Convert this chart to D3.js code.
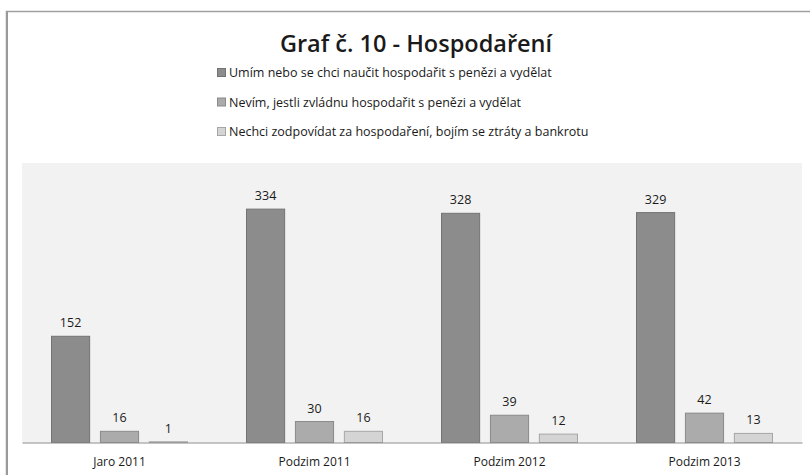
<!DOCTYPE html>
<html>
<head>
<meta charset="utf-8">
<script src="https://cdn.jsdelivr.net/npm/d3@7"></script>
<style>
  body { margin: 0; background: #fff; }
  svg text { font-family: "Open Sans", "Noto Sans", sans-serif; fill: #1a1a1a; }
</style>
</head>
<body>
<div id="content"></div>
<script>
// Graf c. 10 - Hospodareni
var title = "Graf č. 10 - Hospodaření";

var periods = ["Jaro 2011", "Podzim 2011", "Podzim 2012", "Podzim 2013"];

var seriesNames = [
	"Umím nebo se chci naučit hospodařit s penězi a vydělat",
	"Nevím, jestli zvládnu hospodařit s penězi a vydělat",
	"Nechci zodpovídat za hospodaření, bojím se ztráty a bankrotu"
];

var umim = [152, 334, 328, 329];
var nevim = [16, 30, 39, 42];
var nechci = [1, 16, 12, 13];

var fills = ["#8c8c8c", "#ababab", "#d4d4d4"];
var strokes = ["#737373", "#8a8a8a", "#a6a6a6"];

var width = 810, height = 475;
var plot = {left: 22, right: 802, top: 163, bottom: 442.5};

var svg = d3.select("#content").append("svg")
	.attr("width", width).attr("height", height);

// outer chart frame (runs past the photo edge)
svg.append("rect")
	.attr("x", 6.5).attr("y", 11.5)
	.attr("width", 820).attr("height", 480)
	.attr("fill", "#fff")
	.attr("stroke", "#a0a0a0")
	.attr("stroke-width", 1.5);
svg.append("line")
	.attr("x1", 7).attr("x2", 7).attr("y1", 11).attr("y2", height)
	.attr("stroke", "#9a9a9a").attr("stroke-width", 2);

svg.append("rect")
	.attr("x", plot.left).attr("y", plot.top)
	.attr("width", plot.right - plot.left).attr("height", plot.bottom - plot.top)
	.attr("fill", "#f2f2f2");

svg.append("text")
	.attr("x", 416).attr("y", 52)
	.attr("text-anchor", "middle")
	.style("font-size", "23.5px")
	.style("font-weight", "600")
	.text(title);

// legend
var legend = svg.append("g").attr("transform", "translate(217,0)");
seriesNames.forEach(function(name, i) {
	var cy = 73 + i * 29.5;
	legend.append("rect")
		.attr("x", 0.5).attr("y", cy - 4.5)
		.attr("width", 8).attr("height", 8)
		.attr("fill", fills[i]).attr("stroke", strokes[i]);
	legend.append("text")
		.attr("x", 12).attr("y", cy + 4)
		.style("font-size", "12.5px")
		.text(name);
});

var x = d3.scaleBand().domain(periods).range([plot.left, plot.right]).padding(0);
var xInner = d3.scaleBand().domain(d3.range(3))
	.range([29, x.bandwidth() - 29]).paddingInner(0.2);
var y = d3.scaleLinear().domain([0, 400]).range([plot.bottom, plot.top]);

var rows = periods.map(function(p, i) {
	return {period: p, values: [umim[i], nevim[i], nechci[i]]};
});

var groups = svg.selectAll(".group")
	.data(rows)
	.enter().append("g")
	.attr("class", "group")
	.attr("transform", function(d) { return "translate(" + x(d.period) + ",0)"; });

var bars = groups.selectAll("g.bar")
	.data(function(d) { return d.values; })
	.enter().append("g").attr("class", "bar");

bars.append("rect")
	.attr("x", function(d, i) { return xInner(i) + 0.5; })
	.attr("y", function(d) { return y(d); })
	.attr("width", xInner.bandwidth() - 1)
	.attr("height", function(d) { return y(0) - y(d); })
	.attr("fill", function(d, i) { return fills[i]; })
	.attr("stroke", function(d, i) { return strokes[i]; });

bars.append("text")
	.attr("x", function(d, i) { return xInner(i) + xInner.bandwidth() / 2; })
	.attr("y", function(d) { return y(d) - 9; })
	.attr("text-anchor", "middle")
	.style("font-size", "12.5px")
	.text(function(d) { return d; });

// category axis
var axis = svg.append("g")
	.attr("transform", "translate(0," + plot.bottom + ")")
	.call(d3.axisBottom(x).tickSize(0).tickPadding(15));
axis.select(".domain").attr("stroke", "#8c8c8c").attr("stroke-width", 1.2);
axis.selectAll("text")
	.style("font-size", "12px")
	.style("font-family", "'Open Sans', 'Noto Sans', sans-serif")
	.attr("fill", "#1a1a1a");
</script>
</body>
</html>
